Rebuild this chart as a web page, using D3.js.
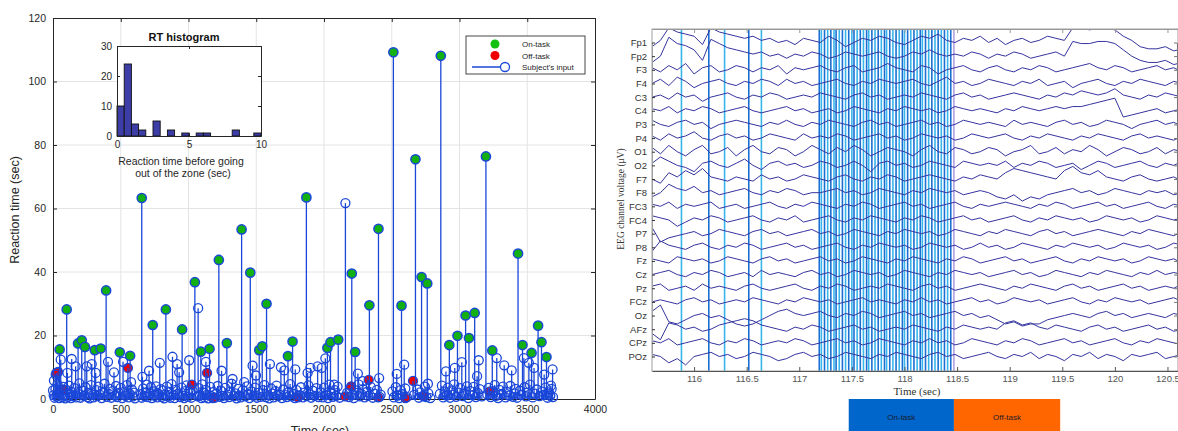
<!DOCTYPE html>
<html>
<head>
<meta charset="utf-8">
<script src="https://cdn.jsdelivr.net/npm/d3@7"></script>
<style>
body { margin: 0; background: #fff; }
svg { display: block; }
</style>
</head>
<body>
<script>
var W = 1178, H = 431;

// ---------- left panel data: [time (sec), reaction time (sec)] ----------
var onTask = [[49,15.6],[101,28.2],[185,17.5],[212,18.5],[236,16.4],[308,15.4],[352,15.9],[392,34.2],[493,14.7],[569,13.6],[655,63.3],[736,23.3],[833,28.2],[953,21.9],[1047,36.8],[1091,14.9],[1155,15.8],[1224,43.8],[1283,17.6],[1392,53.4],[1456,39.8],[1522,15.4],[1544,16.6],[1576,30.0],[1734,13.5],[1768,18.1],[1870,63.5],[2025,16.1],[2048,17.9],[2105,18.7],[2205,39.5],[2230,14.8],[2335,29.5],[2402,53.6],[2512,109.2],[2572,29.4],[2675,75.5],[2720,38.4],[2762,36.4],[2862,108.1],[2925,17.0],[2985,19.9],[3045,26.3],[3070,19.2],[3112,27.1],[3195,76.4],[3242,15.3],[3432,45.8],[3465,17.0],[3532,14.5],[3580,23.1],[3605,17.9],[3642,13.2]];

var offTask = [[25,8.2],[37,8.5],[74,3],[553,9.8],[1025,4.5],[1137,8.2],[1180,0.3],[1808,0.5],[2155,0.8],[2200,4],[2330,6],[2400,0.5],[2600,0.3],[2657,5.7],[2737,0.8],[3225,2.4]];

var otherInputs = [[0,2.7],[7,5.8],[20,7.7],[57,12.4],[106,8.2],[138,12.6],[167,10.3],[249,10.3],[286,11.0],[315,8.2],[406,11.7],[450,8.4],[517,11.7],[576,5.3],[660,7],[709,8.9],[788,11.4],[882,13.3],[916,11],[931,8.4],[1005,12.2],[1071,28.6],[1128,11.7],[1244,8.9],[1325,6.3],[1411,5.3],[1473,10.5],[1498,7.4],[1601,11],[1682,10],[1707,9],[1788,9.3],[1879,8.2],[1900,9.8],[1953,10.3],[1983,9.8],[2010,12.8],[2075,4.5],[2158,61.7],[2250,8],[2287,5.6],[2407,6.6],[2537,7.9],[2592,10.8],[2767,4.8],[2900,8.7],[2965,9.8],[3017,11.6],[3142,12.2],[3130,7.2],[3275,12.9],[3330,10.6],[3385,9],[3475,12.9],[3512,11.4],[3550,9.8],[3625,7.7],[3687,9.3],[3675,4.2],
[5,1.2],[12,0.4],[18,3.1],[25,0.8],[33,4.6],[40,1.9],[46,0.3],[60,2.4],[68,0.6],[75,3.8],[83,1.1],[90,0.2],[97,2.9],[110,0.7],[118,4.2],[125,1.5],[133,0.3],[140,2.2],[150,0.9],[158,3.4],[172,0.5],[180,1.8],[195,4.9],[203,0.4],[220,2.6],[228,1.0],[240,3.7],[255,0.6],[262,1.9],[270,0.2],[280,4.4],[295,1.3],[300,0.5],[320,2.8],[328,0.9],[335,3.9],[345,1.4],[360,0.3],[370,2.1],[380,4.8],[398,0.7],[412,1.6],[420,3.2],[430,0.4],[440,2.5],[458,1.1],[465,4.1],[475,0.6],[485,1.9],[500,3.5],[510,0.3],[525,2.3],[535,1.0],[545,4.4],[558,0.5],[565,1.7],[582,3.0],[590,0.8],[598,2.0],[605,0.2],
[648,1.5],[655,0.4],[665,3.3],[675,0.9],[685,2.1],[693,4.5],[700,0.6],[715,1.8],[722,3.7],[730,0.3],[745,2.4],[752,1.0],[760,4.0],[770,0.5],[778,1.6],[795,3.1],[802,0.7],[810,2.7],[820,0.2],[828,1.4],[840,3.9],[848,0.8],[858,2.2],[865,0.4],[875,4.7],[890,1.2],[898,0.3],[905,2.9],[922,1.7],[940,0.6],[948,3.6],[960,1.0],[968,0.3],[975,2.5],[985,4.3],[995,0.7],[1012,1.9],[1020,0.4],[1030,2.6],
[1068,0.8],[1075,3.4],[1085,1.1],[1095,0.3],[1102,4.6],[1110,2.0],[1118,0.5],[1125,2.9],[1135,1.3],[1145,0.2],[1160,3.8],[1170,0.9],[1185,2.2],[1195,0.4],[1205,1.6],[1215,4.1],[1230,0.7],[1240,2.6],[1250,1.0],[1262,0.3],[1270,3.5],[1290,1.4],[1300,0.6],[1310,2.3],[1318,4.8],[1335,0.9],[1345,1.8],[1355,0.2],[1365,3.2],[1375,1.1],[1385,0.5],[1400,2.7],[1420,0.8],[1430,4.0],[1440,1.5],[1450,0.3],[1465,2.4],[1480,1.0],[1490,3.6],[1505,0.4],[1515,1.9],[1530,0.7],[1550,2.8],[1560,4.4],[1570,0.6],[1585,1.3],[1595,0.2],[1610,3.3],[1620,1.7],[1630,0.5],[1640,2.5],[1650,4.2],[1660,0.9],[1672,1.4],[1690,0.3],[1700,3.0],[1715,1.2],[1725,0.6],[1740,2.2],[1750,4.7],[1760,0.8],[1775,1.6],[1785,0.3],[1795,2.9],[1820,1.1],[1830,3.7],[1845,0.5],[1855,2.0],[1872,0.9],[1885,4.3],[1895,1.5],[1905,0.4],[1918,2.6],[1930,1.0],[1945,3.4],[1960,0.6],
[1975,2.1],[1990,0.5],[2000,3.6],[2015,1.2],[2030,0.3],[2040,4.5],[2055,1.7],[2065,0.7],[2080,2.8],[2090,1.0],[2100,3.9],[2115,0.4],
[2170,1.9],[2185,0.6],[2195,3.3],[2210,1.2],[2220,0.3],[2240,2.7],[2255,4.6],[2265,0.8],[2275,1.6],[2290,3.1],[2300,0.5],[2315,2.2],[2325,1.0],[2345,3.8],[2360,0.4],[2375,1.7],[2390,2.9],[2410,0.7],[2418,1.4],
[2505,2.4],[2515,0.5],[2530,3.7],[2545,1.1],[2555,0.3],[2565,2.8],[2580,1.5],[2600,3.3],[2612,0.6],
[2665,1.3],[2690,3.0],[2700,0.4],[2710,2.1],[2730,1.0],[2745,3.9],[2755,0.6],[2770,1.8],[2785,0.3],
[2855,1.6],[2870,4.2],[2880,0.5],[2890,2.3],[2905,1.1],[2915,3.6],[2930,0.4],[2940,2.7],[2950,1.3],[2960,4.6],[2975,0.7],[2995,2.0],[3005,3.4],[3025,0.9],[3035,1.7],[3055,4.0],[3065,0.3],[3080,2.5],[3095,1.2],[3105,3.8],[3120,0.6],[3135,1.9],[3150,3.1],[3165,0.8],
[3205,1.4],[3215,3.5],[3230,0.6],[3250,2.4],[3260,4.4],[3270,1.0],[3285,0.3],[3295,2.9],[3310,1.6],[3320,3.9],[3340,0.5],[3350,2.2],[3365,1.1],[3375,4.1],[3395,0.7],[3405,1.8],[3415,3.2],[3425,0.4],[3445,2.6],[3455,1.3],[3480,3.7],[3490,0.8],[3500,2.0],[3520,4.5],[3540,0.5],[3560,1.7],[3570,3.0],[3590,0.9],[3612,2.3],[3620,1.2],[3635,3.6],[3650,0.4],[3660,2.1],[3670,1.0],[3680,3.2],[3690,0.6]];

var xTicksL = [0, 500, 1000, 1500, 2000, 2500, 3000, 3500, 4000];
var yTicksL = [0, 20, 40, 60, 80, 100, 120];

// RT histogram (bins of 0.5 s from 0 to 10)
var histCounts = [10, 24, 4, 2, 0, 5, 0, 2, 0, 1, 0, 1, 1, 0, 0, 0, 2, 0, 0, 1];
var histBinWidth = 0.5;
var histXTicks = [0, 5, 10];
var histYTicks = [0, 10, 20, 30];

var legendLabels = ["On-task", "Off-task", "Subject's input"];

// ---------- right panel data ----------
var channels = ["Fp1","Fp2","F3","F4","C3","C4","P3","P4","O1","O2","F7","F8","FC3","FC4","P7","P8","Fz","Cz","Pz","FCz","Oz","AFz","CPz","POz"];
var eegStart = 115.6, eegStep = 0.08;
var eegTraces = [
[-2,1,7,5,4,3,-1,7,5,4, 3,2,3,1,2,0,1,-1,2,1, 0,3,1,-2,0,2,1,3,2,0, -1,1,3,2,4,1,0,2,1,3, 0,2,-1,1,2,0,1,3,2,1, 7,7,6,7,7,6,3,1,-2,-3, -3,-2,-4,-3],
[-3,0,9,6,5,3,-2,8,6,4, 3,2,1,2,0,1,-1,1,0,2, 1,-1,0,2,1,0,1,2,0,-1, 0,2,1,3,1,0,1,0,2,1, -1,1,0,2,1,-1,0,1,2,0, 7,6,6,7,7,6,3,0,-2,-3, -3,-2,-4,-3],
[1,-1,2,0,3,-2,1,2,-1,0, 2,1,-1,1,0,2,-2,1,0,1, 2,0,-1,1,2,-1,0,1,3,1, 0,-1,2,1,-2,0,1,2,0,-1, 1,2,0,-1,1,0,2,1,-1,0, 1,2,3,1,0,2,1,-1,0,1, 2,0,1,-1],
[0,2,-1,3,1,-2,0,1,2,0, -1,1,0,2,1,-1,2,0,1,-1, 0,1,2,0,-1,1,0,2,1,0, 1,2,0,-1,1,3,0,1,-1,0, 2,1,0,-1,1,0,2,-1,0,1, -2,0,1,2,0,-1,1,0,2,1, 0,-1,1,0],
[0,1,-1,2,0,1,-2,0,1,2, 0,-1,1,0,2,1,-1,0,1,0, 2,1,0,-1,1,2,0,1,-1,0, 1,0,2,1,0,-1,1,2,0,1, -1,0,1,2,1,0,-1,1,0,2, 1,3,2,1,2,4,1,0,-1,1, 0,2,1,0],
[1,0,2,-1,1,0,2,1,-1,0, 1,2,0,-1,0,1,2,0,1,-1, 0,1,-1,0,2,1,0,-1,1,0, 2,1,0,1,-1,0,2,1,0,1, 0,-1,1,0,2,1,0,1,2,1, 2,2,3,4,5,6,-3,-2,-1,0, 1,-1,0,1],
[2,0,-1,1,2,0,1,-2,0,1, 2,1,0,-1,1,0,2,0,-1,1, 0,2,1,0,-1,1,2,0,1,-1, 0,1,2,0,1,-1,0,2,1,0, 1,0,-1,2,0,1,0,-1,1,2, 0,1,-1,0,2,1,0,-2,0,1, 2,0,1,-1],
[1,-1,2,0,1,3,0,-1,1,2, 0,1,-1,0,2,1,0,-1,2,0, 1,0,2,1,-1,0,1,2,0,1, -1,0,2,1,0,1,-1,0,2,1, 0,1,2,0,-1,1,0,2,1,0, -1,1,0,2,1,0,-1,1,2,0, 1,0,-1,1],
[2,-1,3,0,-2,1,3,-1,0,2, -2,1,3,0,-1,2,1,-2,0,3, 1,-1,2,0,3,1,-2,0,2,1, 0,-2,1,3,0,-1,2,1,-1,0, 2,1,-2,0,1,3,-1,0,2,-1, 1,0,3,1,-2,0,2,1,-1,0, 2,-1,1,0],
[1,4,2,0,-1,-3,1,2,0,-1, 1,3,0,-2,1,2,0,1,-1,0, 2,1,-1,0,2,0,-3,1,2,0, 1,-1,0,2,1,0,-1,2,1,0, 1,0,2,-1,1,0,2,1,-1,0, 1,-2,0,2,1,-1,0,1,2,0, -1,1,0,2],
[0,-2,3,1,4,2,5,1,0,-1, 1,0,-1,2,0,1,-1,0,2,1, 0,-1,1,2,0,-1,1,0,2,1, -1,0,1,2,1,0,-1,1,0,2, 1,0,3,5,4,3,2,1,0,4, 6,3,2,4,1,0,-1,1,2,0, -1,0,1,-1],
[-2,0,4,2,1,3,0,1,-1,0, 1,2,0,-1,1,0,2,1,-1,0, 0,1,2,0,1,-1,0,2,1,0, -1,1,0,2,1,0,1,-1,0,1, 0,-2,-3,-1,-4,-2,-3,-1,0,1, 2,0,1,-1,0,2,1,0,-1,1, 0,1,-1,0],
[1,0,2,-1,1,0,1,2,-1,0, 1,-1,0,1,2,0,-1,1,0,2, 1,0,-1,1,0,2,1,-1,0,1, 2,0,1,-1,0,1,2,0,-1,1, 0,1,2,1,0,-1,1,0,2,1, -1,0,1,2,0,1,-1,0,1,2, 0,-1,1,0],
[2,1,0,-3,-1,1,0,2,1,-1, 0,1,2,0,-1,1,0,2,-1,0, 1,2,0,-1,1,0,2,1,0,-1, 1,0,2,1,-1,0,1,2,0,1, -1,0,1,2,0,-1,1,0,2,1, 0,1,-1,0,2,1,0,1,-1,0, 2,1,0,1],
[3,-4,-2,-1,0,1,-1,0,2,1, 0,-1,1,2,0,1,-1,0,1,2, 0,1,-1,0,2,1,0,-1,1,0, 2,1,0,1,-1,0,2,1,0,-1, 1,0,2,1,0,-1,1,2,0,1, -1,0,1,2,1,0,-1,1,0,2, 1,0,-1,1],
[-2,3,1,0,-1,1,2,0,-1,1, 0,2,1,-1,0,1,2,0,1,-1, 0,1,2,0,-1,1,0,2,1,0, 1,-1,0,2,1,0,1,-1,0,2, 0,1,-1,0,2,1,0,-1,1,0, 2,1,0,1,-1,0,2,1,0,1, -1,0,2,1],
[1,0,-1,2,1,0,1,-1,0,2, 1,0,-1,1,2,0,1,-1,0,1, 2,0,1,-1,0,2,1,0,-1,1, 0,2,1,0,-1,1,0,2,1,-1, 0,1,2,0,1,-1,0,1,2,0, -1,1,0,2,1,0,1,-1,0,2, 1,0,1,-1],
[0,1,2,0,-1,1,0,2,1,-1, 0,1,-1,2,0,1,0,-1,1,2, 0,1,-1,0,2,1,0,1,-1,0, 2,1,0,-1,1,0,2,1,0,1, -1,0,1,2,0,1,-1,0,2,1, 0,-1,1,0,2,1,0,-1,1,0, 2,0,1,0],
[1,2,-1,0,1,-1,2,0,1,0, -1,1,2,0,-1,0,1,2,0,-1, 1,0,2,1,-1,0,1,0,2,1, 0,-1,1,2,0,1,-1,0,1,2, 1,0,-1,1,0,2,1,0,-1,1, 2,0,1,-1,0,1,2,0,1,-1, 0,1,0,2],
[0,1,0,-1,1,2,0,1,-1,0, 1,0,2,1,0,-1,1,0,2,1, 0,1,-1,0,1,2,0,1,0,-1, 1,0,2,0,1,-1,0,1,2,0, 1,-1,0,2,1,0,1,-1,0,1, 2,0,-1,1,0,2,1,0,1,-1, 0,1,2,0],
[2,5,-3,-4,-2,0,1,-1,0,-2, -4,-5,-4,-2,0,2,3,1,0,1, 2,0,-1,1,0,2,1,-1,0,1, 2,0,1,-1,0,1,2,0,1,-1, 0,-2,-4,-3,-5,-4,-4,-2,-1,0, 1,0,-1,1,2,0,1,-1,0,1, 0,-1,1,0],
[-2,-5,3,2,0,1,-1,0,2,3, 4,5,4,2,1,0,-1,1,0,2, 1,-1,0,1,2,0,1,-1,0,1, 0,2,1,0,-1,1,0,2,1,0, 1,0,3,4,2,3,1,0,2,1, 0,-1,1,2,0,1,-1,0,1,2, 0,1,-1,0],
[1,0,2,-1,0,1,2,0,-1,1, 0,2,1,-1,0,1,0,2,1,-1, 0,1,2,0,1,-1,0,2,1,0, -1,1,0,2,0,1,-1,0,2,1, 0,-1,1,0,2,1,-1,0,1,2, 0,1,-1,0,1,2,0,-1,1,0, 2,1,0,-1],
[1,0,-3,-1,-4,0,1,2,0,1, -1,0,2,1,0,-2,-1,1,2,0, 1,-1,0,2,1,0,-1,1,0,2, 1,0,-1,1,2,0,1,-1,0,1, 2,0,-1,1,0,2,-1,1,0,-2, 1,0,2,-1,1,0,-2,1,0,1, 2,-1,0,1]
];

// subject key-press markers (sec)
var eventTimes = [115.88,116.14,116.29,116.52,116.64,
117.19,117.21,117.24,117.27,117.30,117.33,117.35,117.38,117.41,117.44,117.47,117.50,117.52,117.55,117.58,117.61,117.64,117.66,117.69,117.72,117.75,117.78,117.81,117.83,117.86,117.89,117.92,117.95,117.98,118.00,118.03,118.06,118.09,118.12,118.15,118.17,118.20,118.23,118.26,118.29,118.32,118.35,118.38,118.41,118.44];
var boundaryTime = 118.47;
var xTicksR = [116, 116.5, 117, 117.5, 118, 118.5, 119, 119.5, 120, 120.5];

var blockLabels = ["On-task", "Off-task"];
var blockStart = [117.47, 118.47];
var blockEnd = [118.47, 119.48];
var blockColors = ["#0066cc", "#ff6600"];

var svg = d3.select("body").append("svg")
  .attr("width", W).attr("height", H)
  .style("font-family", "'Liberation Sans', Arial, sans-serif");

// ================= left: reaction time stem plot =================
var xL = d3.scaleLinear().domain([0, 4000]).range([53, 595]);
var yL = d3.scaleLinear().domain([0, 120]).range([399, 18]);
var left = svg.append("g");

left.append("g").selectAll("line").data(xTicksL.slice(1, -1)).join("line")
  .attr("x1", d => xL(d)).attr("x2", d => xL(d))
  .attr("y1", yL(0)).attr("y2", yL(120))
  .attr("stroke", "#e4e4e4");
left.append("g").selectAll("line").data(yTicksL.slice(1, -1)).join("line")
  .attr("x1", xL(0)).attr("x2", xL(4000))
  .attr("y1", d => yL(d)).attr("y2", d => yL(d))
  .attr("stroke", "#e4e4e4");

function styleAxis(g, color, size) {
  g.select(".domain").attr("stroke", color);
  g.selectAll(".tick line").attr("stroke", color);
  g.selectAll(".tick text").attr("fill", color).attr("font-size", size).attr("font-family", null);
}

left.append("g").attr("transform", "translate(0," + yL(0) + ")")
  .call(d3.axisBottom(xL).tickValues(xTicksL).tickSizeInner(-4).tickSizeOuter(0).tickPadding(7).tickFormat(d => d))
  .call(g => styleAxis(g, "#262626", 10.5));
left.append("g").attr("transform", "translate(0," + yL(120) + ")")
  .call(d3.axisTop(xL).tickValues(xTicksL).tickSizeInner(-4).tickSizeOuter(0).tickFormat(""))
  .call(g => styleAxis(g, "#262626", 10.5));
left.append("g").attr("transform", "translate(" + xL(0) + ",0)")
  .call(d3.axisLeft(yL).tickValues(yTicksL).tickSizeInner(-4).tickSizeOuter(0).tickPadding(7))
  .call(g => styleAxis(g, "#262626", 10.5));
left.append("g").attr("transform", "translate(" + xL(4000) + ",0)")
  .call(d3.axisRight(yL).tickValues(yTicksL).tickSizeInner(-4).tickSizeOuter(0).tickFormat(""))
  .call(g => styleAxis(g, "#262626", 10.5));

left.append("text").attr("x", 320).attr("y", 435)
  .attr("text-anchor", "middle").attr("font-size", 12.5).attr("fill", "#262626")
  .text("Time (sec)");
left.append("text").attr("transform", "translate(19,210) rotate(-90)")
  .attr("text-anchor", "middle").attr("font-size", 12.5).attr("fill", "#262626")
  .text("Reaction time (sec)");

var stemBlue = "#1a47d8";
var allInputs = otherInputs.concat(onTask, offTask);

left.append("g").selectAll("circle").data(offTask).join("circle")
  .attr("cx", d => xL(d[0])).attr("cy", d => yL(d[1])).attr("r", 4.5)
  .attr("fill", "#f00000");

left.append("g").selectAll("line").data(allInputs).join("line")
  .attr("x1", d => xL(d[0])).attr("x2", d => xL(d[0]))
  .attr("y1", yL(0)).attr("y2", d => yL(d[1]))
  .attr("stroke", stemBlue).attr("stroke-width", 1.3);
left.append("g").selectAll("circle").data(otherInputs).join("circle")
  .attr("cx", d => xL(d[0])).attr("cy", d => yL(d[1])).attr("r", 4.5)
  .attr("fill", "none").attr("stroke", stemBlue).attr("stroke-width", 1.3);
left.append("g").selectAll("circle").data(offTask).join("circle")
  .attr("cx", d => xL(d[0])).attr("cy", d => yL(d[1])).attr("r", 4.5)
  .attr("fill", "none").attr("stroke", stemBlue).attr("stroke-width", 1.3);
left.append("g").selectAll("circle").data(onTask).join("circle")
  .attr("cx", d => xL(d[0])).attr("cy", d => yL(d[1])).attr("r", 4.6)
  .attr("fill", "#12b012").attr("stroke", stemBlue).attr("stroke-width", 1.5);

// ---------- inset histogram ----------
var xH = d3.scaleLinear().domain([0, 10]).range([117, 261]);
var yH = d3.scaleLinear().domain([0, 30]).range([136, 46]);
var inset = svg.append("g");
inset.append("rect").attr("x", 117).attr("y", 46).attr("width", 144).attr("height", 90).attr("fill", "#fff");
inset.append("g").selectAll("rect").data(histCounts).join("rect")
  .attr("x", (d, i) => xH(i * histBinWidth))
  .attr("width", xH(histBinWidth) - xH(0))
  .attr("y", d => yH(d)).attr("height", d => yH(0) - yH(d))
  .attr("fill", "#3d3da8").attr("stroke", d => d > 0 ? "#111" : "none").attr("stroke-width", 0.9);
inset.append("g").attr("transform", "translate(0,136)")
  .call(d3.axisBottom(xH).tickValues(histXTicks).tickSizeInner(-3).tickSizeOuter(0).tickPadding(5))
  .call(g => styleAxis(g, "#262626", 10));
inset.append("g").attr("transform", "translate(0,46)")
  .call(d3.axisTop(xH).tickValues(histXTicks).tickSizeInner(-3).tickSizeOuter(0).tickFormat(""))
  .call(g => styleAxis(g, "#262626", 10));
inset.append("g").attr("transform", "translate(117,0)")
  .call(d3.axisLeft(yH).tickValues(histYTicks).tickSizeInner(-3).tickSizeOuter(0).tickPadding(5))
  .call(g => styleAxis(g, "#262626", 10));
inset.append("g").attr("transform", "translate(261,0)")
  .call(d3.axisRight(yH).tickValues(histYTicks).tickSizeInner(-3).tickSizeOuter(0).tickFormat(""))
  .call(g => styleAxis(g, "#262626", 10));
inset.append("text").attr("x", 184).attr("y", 41).attr("text-anchor", "middle")
  .attr("font-size", 11).attr("font-weight", "bold").attr("fill", "#111").text("RT histogram");
inset.append("text").attr("x", 181).attr("y", 165).attr("text-anchor", "middle")
  .attr("font-size", 10.5).attr("fill", "#262626").text("Reaction time before going");
inset.append("text").attr("x", 183).attr("y", 177).attr("text-anchor", "middle")
  .attr("font-size", 10.5).attr("fill", "#262626").text("out of the zone (sec)");

// ---------- legend ----------
var legend = svg.append("g");
legend.append("rect").attr("x", 466).attr("y", 36).attr("width", 119).attr("height", 38)
  .attr("fill", "#fff").attr("stroke", "#333").attr("stroke-width", 0.9);
legend.append("circle").attr("cx", 495).attr("cy", 44).attr("r", 4.5).attr("fill", "#12c012");
legend.append("circle").attr("cx", 495).attr("cy", 55.5).attr("r", 4.5).attr("fill", "#f00000");
legend.append("line").attr("x1", 472).attr("x2", 505).attr("y1", 67).attr("y2", 67)
  .attr("stroke", stemBlue).attr("stroke-width", 1.3);
legend.append("circle").attr("cx", 505).attr("cy", 67).attr("r", 4.5)
  .attr("fill", "#fff").attr("stroke", stemBlue).attr("stroke-width", 1.3);
legend.selectAll("text").data(legendLabels).join("text")
  .attr("x", 522).attr("y", (d, i) => 47 + i * 11.5)
  .attr("font-size", 8).attr("fill", "#262626").text(d => d);

// ================= right: EEG traces =================
var xR = d3.scaleLinear().domain([115.6, 120.6]).range([652, 1178]);
var yCh = d3.scalePoint().domain(channels).range([42.5, 356.5]);
var amp = d3.scaleLinear().domain([-10, 10]).range([21, -21]);
var plotTop = 29, plotBottom = 371;
var right = svg.append("g");

svg.append("defs").append("clipPath").attr("id", "eegclip")
  .append("rect").attr("x", 652).attr("y", plotTop).attr("width", 526).attr("height", plotBottom - plotTop);

var plot = right.append("g").attr("clip-path", "url(#eegclip)");
plot.selectAll("line.ev").data(eventTimes).join("line").attr("class", "ev")
  .attr("x1", d => xR(d)).attr("x2", d => xR(d))
  .attr("y1", plotTop).attr("y2", plotBottom)
  .attr("stroke", (d, i) => i % 2 === 0 ? "#38b6ec" : "#1b6fd2")
  .attr("stroke-width", 1.6);
plot.append("line").attr("x1", xR(boundaryTime)).attr("x2", xR(boundaryTime))
  .attr("y1", plotTop).attr("y2", plotBottom).attr("stroke", "#9a80d6").attr("stroke-width", 1.2);

var line = d3.line().x((d, i) => xR(eegStart + i * eegStep));
plot.selectAll("path.tr").data(eegTraces).join("path").attr("class", "tr")
  .attr("d", (vals, k) => line.y(v => yCh(channels[k]) + amp(v))(vals))
  .attr("fill", "none").attr("stroke", "#34349f").attr("stroke-width", 1);

right.append("rect").attr("x", 652).attr("y", plotTop).attr("width", 526).attr("height", plotBottom - plotTop)
  .attr("fill", "none").attr("stroke", "#a0a0a0");
right.append("g").attr("transform", "translate(0," + plotBottom + ")")
  .call(d3.axisBottom(xR).tickValues(xTicksR).tickSizeInner(-4).tickSizeOuter(0).tickPadding(4).tickFormat(d => d))
  .call(g => styleAxis(g, "#555", 9.5));
right.append("g").attr("transform", "translate(0," + plotTop + ")")
  .call(d3.axisTop(xR).tickValues(xTicksR).tickSizeInner(-4).tickSizeOuter(0).tickFormat(""))
  .call(g => styleAxis(g, "#999", 10));
right.append("g").attr("transform", "translate(652,0)")
  .call(d3.axisLeft(yCh).tickSizeInner(-3).tickSizeOuter(0).tickPadding(5))
  .call(g => styleAxis(g, "#333", 9.5))
  .call(g => g.select(".domain").attr("stroke", "#a0a0a0"));
right.append("g").attr("transform", "translate(1177,0)")
  .call(d3.axisRight(yCh).tickSizeInner(-3).tickSizeOuter(0).tickFormat(""))
  .call(g => styleAxis(g, "#777", 9.5));

right.append("text").attr("x", 917).attr("y", 395).attr("text-anchor", "middle")
  .attr("font-family", "'Liberation Serif', 'DejaVu Serif', serif")
  .attr("font-size", 11).attr("fill", "#333").text("Time (sec)");
right.append("text").attr("transform", "translate(624,199) rotate(-90)")
  .attr("text-anchor", "middle")
  .attr("font-family", "'Liberation Serif', 'DejaVu Serif', serif")
  .attr("font-size", 9.5).attr("fill", "#333").text("EEG channel voltage (\u03bcV)");

// on-task / off-task blocks
var blocks = right.append("g");
blocks.selectAll("rect").data(blockLabels).join("rect")
  .attr("x", (d, i) => xR(blockStart[i]))
  .attr("width", (d, i) => xR(blockEnd[i]) - xR(blockStart[i]))
  .attr("y", 399).attr("height", 40)
  .attr("fill", (d, i) => blockColors[i]);
blocks.selectAll("text").data(blockLabels).join("text")
  .attr("x", (d, i) => (xR(blockStart[i]) + xR(blockEnd[i])) / 2)
  .attr("y", 420).attr("text-anchor", "middle")
  .attr("font-size", 8).attr("fill", "#1a1a2a").text(d => d);
</script>
</body>
</html>
